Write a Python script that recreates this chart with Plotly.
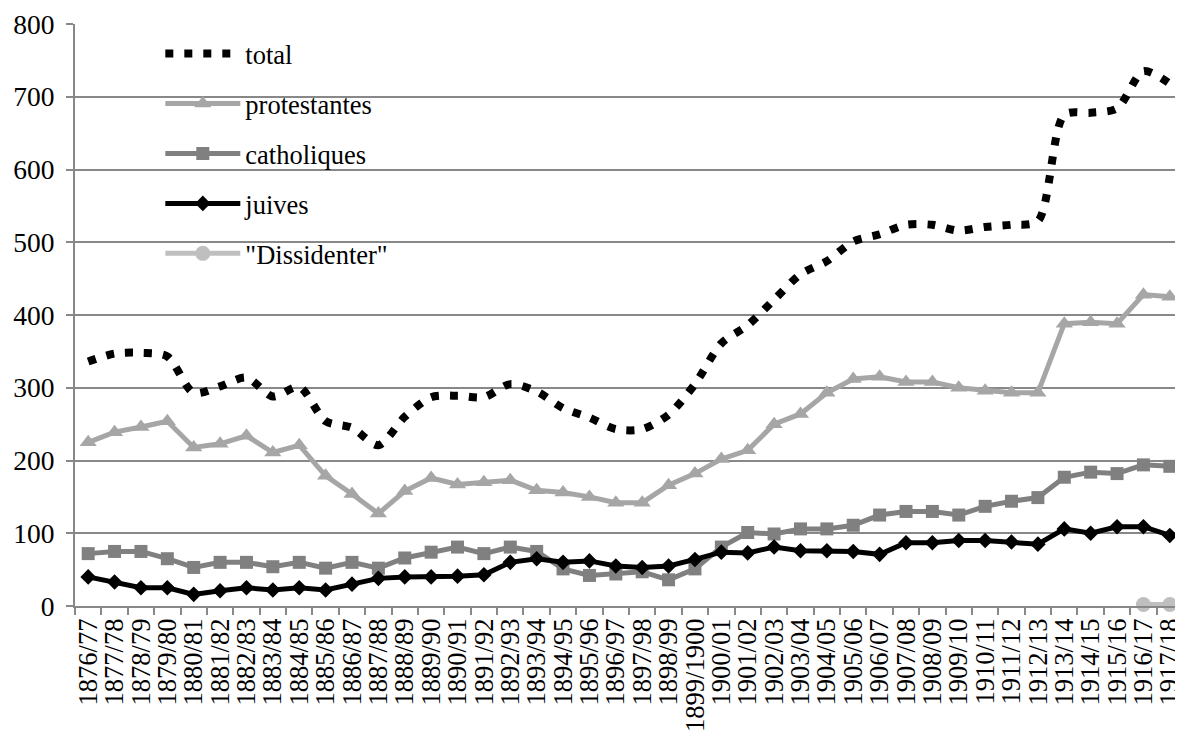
import plotly.graph_objects as go

years = [
    "1876/77", "1877/78", "1878/79", "1879/80", "1880/81", "1881/82", "1882/83",
    "1883/84", "1884/85", "1885/86", "1886/87", "1887/88", "1888/89", "1889/90",
    "1890/91", "1891/92", "1892/93", "1893/94", "1894/95", "1895/96", "1896/97",
    "1897/98", "1898/99", "1899/1900", "1900/01", "1901/02", "1902/03", "1903/04",
    "1904/05", "1905/06", "1906/07", "1907/08", "1908/09", "1909/10", "1910/11",
    "1911/12", "1912/13", "1913/14", "1914/15", "1915/16", "1916/17", "1917/18",
]

total = [336, 347, 348, 343, 293, 302, 314, 288, 301, 254, 245, 221, 260, 287,
         289, 287, 305, 295, 272, 259, 243, 243, 263, 305, 361, 386, 421, 456,
         474, 501, 511, 524, 524, 516, 521, 524, 529, 675, 678, 684, 735, 718]

protestantes = [225, 239, 246, 254, 218, 223, 234, 211, 221, 179, 154, 127, 158, 176,
                167, 170, 173, 159, 156, 150, 142, 142, 166, 182, 202, 214, 250, 264,
                293, 312, 315, 308, 308, 300, 296, 293, 293, 388, 390, 388, 428, 425]

catholiques = [72, 75, 75, 65, 53, 60, 60, 54, 60, 52, 60, 52, 66, 74,
               81, 72, 81, 75, 51, 42, 44, 47, 36, 51, 81, 101, 99, 106,
               106, 111, 125, 130, 130, 125, 137, 144, 149, 177, 184, 182, 194, 192]

juives = [40, 33, 25, 25, 16, 21, 25, 22, 25, 22, 30, 38, 40, 40,
          41, 43, 60, 65, 60, 62, 55, 53, 55, 64, 74, 73, 81, 76,
          76, 75, 71, 87, 87, 90, 90, 88, 85, 106, 100, 109, 109, 97]

dissidenter = [None] * 40 + [2, 2]

FONT = "Liberation Serif, Times New Roman, serif"
AXIS_GRAY = "#888888"

fig = go.Figure()

fig.add_trace(go.Scatter(
    x=years, y=total, name="total", mode="lines", legendgroup="a",
    line=dict(color="black", width=8, dash="8px,11px", shape="spline", smoothing=0.8),
))
fig.add_trace(go.Scatter(
    x=years, y=protestantes, name="protestantes", mode="lines+markers", legendgroup="b",
    line=dict(color="#A6A6A6", width=5),
    marker=dict(symbol="triangle-up", size=15, color="#A6A6A6"),
))
fig.add_trace(go.Scatter(
    x=years, y=catholiques, name="catholiques", mode="lines+markers", legendgroup="c",
    line=dict(color="#808080", width=5),
    marker=dict(symbol="square", size=13, color="#808080"),
))
fig.add_trace(go.Scatter(
    x=years, y=juives, name="juives", mode="lines+markers", legendgroup="d",
    line=dict(color="black", width=5),
    marker=dict(symbol="diamond", size=12, color="black"),
))
fig.add_trace(go.Scatter(
    x=years, y=dissidenter, name="\"Dissidenter\"", mode="lines+markers", legendgroup="e",
    line=dict(color="#BFBFBF", width=5),
    marker=dict(symbol="circle", size=15, color="#BFBFBF"),
    cliponaxis=False,
))

fig.update_layout(
    width=1175, height=725,
    margin=dict(l=67, r=0, t=16, b=127, autoexpand=False),
    paper_bgcolor="white", plot_bgcolor="white",
    font=dict(family=FONT, size=26, color="black"),
    showlegend=True,
    legend=dict(
        x=0.077, y=0.99, xanchor="left", yanchor="top",
        bgcolor="rgba(0,0,0,0)", borderwidth=0,
        font=dict(family=FONT, size=26.5, color="black"),
        itemwidth=75, tracegroupgap=12.5,
        traceorder="grouped",
    ),
    xaxis=dict(
        type="category", tickangle=-90,
        tickmode="array", tickvals=years, ticktext=years,
        tickfont=dict(family=FONT, size=26.5, color="black"),
        showline=True, linecolor=AXIS_GRAY, linewidth=2,
        ticks="outside", tickson="boundaries", ticklen=7, tickcolor=AXIS_GRAY, tickwidth=2,
        showgrid=False, zeroline=False, automargin=False,
        range=[-0.5, 41.5],
    ),
    yaxis=dict(
        range=[0, 800], dtick=100, tick0=0,
        tickfont=dict(family=FONT, size=27.5, color="black"),
        showline=True, linecolor=AXIS_GRAY, linewidth=2,
        ticks="outside", ticklen=7, tickcolor=AXIS_GRAY, tickwidth=2,
        showgrid=True, gridcolor=AXIS_GRAY, gridwidth=1.6,
        zeroline=False, ticklabelstandoff=6, automargin=False,
    ),
)

fig.write_html("out.html")
